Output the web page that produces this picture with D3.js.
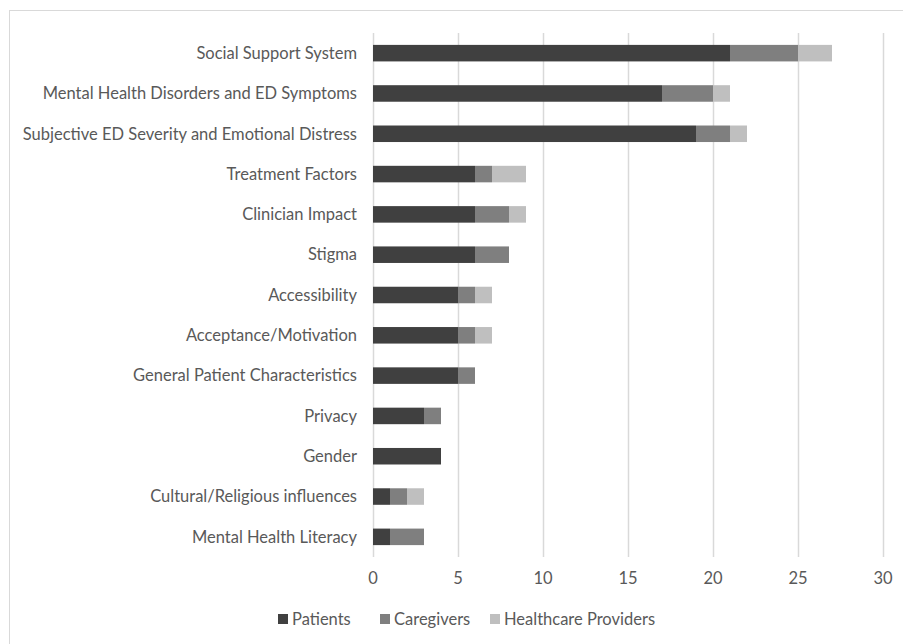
<!DOCTYPE html>
<html>
<head>
<meta charset="utf-8">
<script src="https://cdn.jsdelivr.net/npm/d3@7"></script>
<style>
  html, body { margin: 0; padding: 0; background: #fff; }
  text { font-family: Lato, "Open Sans", sans-serif; fill: #595959; }
</style>
</head>
<body>
<svg id="chart" width="903" height="644"></svg>
<script>
const categories = [
  "Social Support System",
  "Mental Health Disorders and ED Symptoms",
  "Subjective ED Severity and Emotional Distress",
  "Treatment Factors",
  "Clinician Impact",
  "Stigma",
  "Accessibility",
  "Acceptance/Motivation",
  "General Patient Characteristics",
  "Privacy",
  "Gender",
  "Cultural/Religious influences",
  "Mental Health Literacy"
];
const patients    = [21, 17, 19, 6, 6, 6, 5, 5, 5, 3, 4, 1, 1];
const caregivers  = [4, 3, 2, 1, 2, 2, 1, 1, 1, 1, 0, 1, 2];
const providers   = [2, 1, 1, 2, 1, 0, 1, 1, 0, 0, 0, 1, 0];
const seriesNames = ["Patients", "Caregivers", "Healthcare Providers"];
const seriesColors = ["#404040", "#7f7f7f", "#bfbfbf"];
const xTicks = [0, 5, 10, 15, 20, 25, 30];

const svg = d3.select("#chart");
const fontSize = 16.5;

// outer frame
svg.append("rect")
  .attr("x", 9.5).attr("y", 10.5)
  .attr("width", 903).attr("height", 644)
  .attr("fill", "none").attr("stroke", "#d9d9d9");

const plot = { left: 373, right: 883, top: 33, bottom: 557 };

const x = d3.scaleLinear().domain([0, 30]).range([plot.left, plot.right]);
const y = d3.scaleBand().domain(categories).range([plot.top, plot.bottom]).paddingInner(0.59).paddingOuter(0.295);

// vertical gridlines
svg.append("g").selectAll("line").data(xTicks).join("line")
  .attr("x1", d => Math.round(x(d)) + 0.5).attr("x2", d => Math.round(x(d)) + 0.5)
  .attr("y1", plot.top).attr("y2", plot.bottom)
  .attr("stroke", "#d9d9d9").attr("stroke-width", 1.5);

// stacked bars
const rows = categories.map((c, i) => ({ cat: c, Patients: patients[i], Caregivers: caregivers[i], "Healthcare Providers": providers[i] }));
const stack = d3.stack().keys(seriesNames)(rows);

svg.append("g").selectAll("g").data(stack).join("g")
  .attr("fill", (d, i) => seriesColors[i])
  .selectAll("rect").data(d => d.filter(s => s[1] > s[0])).join("rect")
  .attr("x", d => x(d[0]))
  .attr("width", d => x(d[1]) - x(d[0]))
  .attr("y", d => y(d.data.cat))
  .attr("height", y.bandwidth());

// category labels
svg.append("g").selectAll("text").data(categories).join("text")
  .attr("x", 357)
  .attr("y", d => y(d) + y.bandwidth() / 2)
  .attr("dy", "0.35em")
  .attr("text-anchor", "end")
  .attr("font-size", fontSize)
  .text(d => d);

// x axis tick labels
svg.append("g").selectAll("text").data(xTicks).join("text")
  .attr("x", d => x(d))
  .attr("y", 578)
  .attr("dy", "0.35em")
  .attr("text-anchor", "middle")
  .attr("font-size", fontSize)
  .text(d => d);

// legend
const legendX = [278, 380, 490];
const legend = svg.append("g").selectAll("g").data(seriesNames).join("g")
  .attr("transform", (d, i) => `translate(${legendX[i]},619)`);
legend.append("rect")
  .attr("x", 0).attr("y", -5).attr("width", 10).attr("height", 10)
  .attr("fill", (d, i) => seriesColors[i]);
legend.append("text")
  .attr("x", 14).attr("dy", "0.35em")
  .attr("font-size", fontSize)
  .text(d => d);
</script>
</body>
</html>
